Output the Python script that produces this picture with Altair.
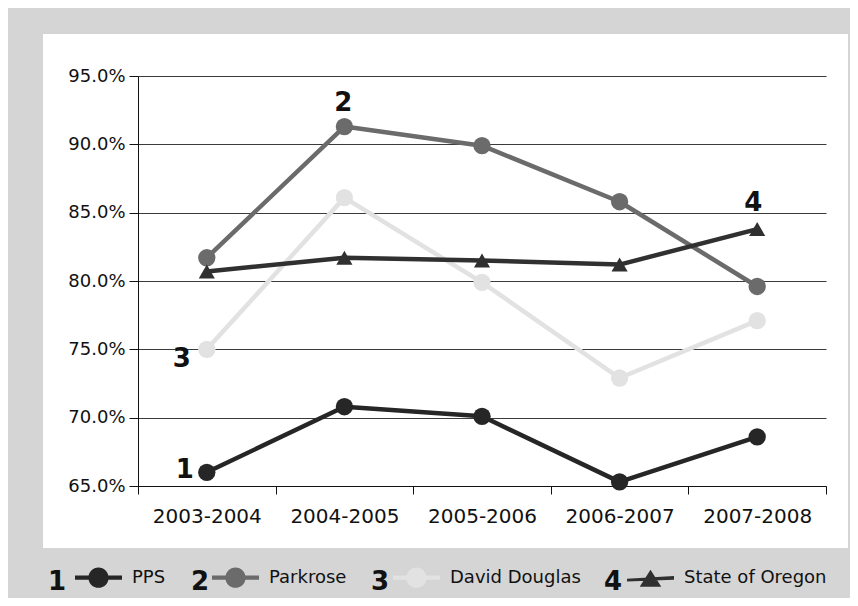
import altair as alt
import pandas as pd

years = ["2003-2004", "2004-2005", "2005-2006", "2006-2007", "2007-2008"]
series_names = ["PPS", "Parkrose", "David Douglas", "State of Oregon"]
series_nums = ["1", "2", "3", "4"]
pps = [66.0, 70.8, 70.1, 65.3, 68.6]
parkrose = [81.7, 91.3, 89.9, 85.8, 79.6]
david_douglas = [75.0, 86.1, 79.9, 72.9, 77.1]
state = [80.7, 81.7, 81.5, 81.2, 83.8]
y_ticks = [65, 70, 75, 80, 85, 90, 95]
colors = ["#262626", "#6b6b6b", "#e2e2e2", "#303030"]

rows = []
for name, vals in zip(series_names, [pps, parkrose, david_douglas, state]):
    for yr, v in zip(years, vals):
        rows.append({"year": yr, "series": name, "value": v / 100})
df = pd.DataFrame(rows)

ann = pd.DataFrame([
    {"year": years[0], "value": pps[0] / 100, "num": series_nums[0]},
    {"year": years[1], "value": parkrose[1] / 100, "num": series_nums[1]},
    {"year": years[0], "value": david_douglas[0] / 100, "num": series_nums[2]},
    {"year": years[4], "value": state[4] / 100, "num": series_nums[3]},
])

FONT = "DejaVu Sans"
GRAY = "#d5d5d5"

x_enc = alt.X("year:N", sort=years, title=None,
              scale=alt.Scale(paddingInner=0, paddingOuter=0),
              axis=alt.Axis(labelAngle=0, labelFontSize=20, labelFont=FONT, labelColor="#111",
                            domainColor="#111", tickColor="#111", tickSize=8,
                            tickBand="extent", labelPadding=12, grid=False))
y_enc = alt.Y("value:Q", title=None,
              scale=alt.Scale(domain=[0.65, 0.95], nice=False, zero=False),
              axis=alt.Axis(values=[t / 100 for t in y_ticks], format=".1%",
                            labelFontSize=18, labelFont=FONT, labelColor="#111",
                            domainColor="#111", tickColor="#111", tickSize=9,
                            gridColor="#3a3a3a", gridWidth=1, labelPadding=4))
color_scale = alt.Scale(domain=series_names, range=colors)
color_enc = alt.Color("series:N", scale=color_scale, sort=series_names)

CIRC = "M-1,-0.09L1,-0.09L1,0.09L-1,0.09Z M0.43,0A0.43,0.43,0,1,1,-0.43,0A0.43,0.43,0,1,1,0.43,0Z"
TRI = "M-1,0.02L1,-0.1L1,0.06L-1,0.14Z M0,-0.36L0.46,0.36L-0.46,0.36Z"

one = alt.Data(values=[{"a": 1}])
frame = [
    alt.Chart(one).mark_rect(color=GRAY).encode(
        x=alt.value(-200), x2=alt.value(900), y=alt.value(-100), y2=alt.value(-42)),
    alt.Chart(one).mark_rect(color=GRAY).encode(
        x=alt.value(-200), x2=alt.value(-95), y=alt.value(-100), y2=alt.value(700)),
    alt.Chart(one).mark_rect(color=GRAY).encode(
        x=alt.value(710), x2=alt.value(900), y=alt.value(-100), y2=alt.value(700)),
    alt.Chart(one).mark_rect(color=GRAY).encode(
        x=alt.value(-200), x2=alt.value(900), y=alt.value(472), y2=alt.value(700)),
]

lines = alt.Chart(df).mark_line(strokeWidth=4.5, strokeCap="round", strokeJoin="round").encode(
    x=x_enc, y=y_enc, color=color_enc,
)

circles = alt.Chart(df).transform_filter(alt.datum.series != "State of Oregon").mark_circle(
    opacity=1, size=300
).encode(x=alt.X("year:N", sort=years), y="value:Q", color=color_enc)

triangles = alt.Chart(df).transform_filter(alt.datum.series == "State of Oregon").mark_point(
    filled=True, opacity=1, size=260, shape="triangle-up"
).encode(x=alt.X("year:N", sort=years), y="value:Q", color=color_enc)

leg_props = dict(
    title=None, orient="none", direction="horizontal",
    legendX=-63, legendY=478, padding=0,
    symbolSize=2209, symbolStrokeWidth=0, symbolOpacity=1,
    labelFont=FONT, labelFontSize=18, labelColor="#111",
    labelOffset=10, columnPadding=46,
)
legend_layer = alt.Chart(df).transform_filter("false").mark_point(
    filled=True, opacity=1, size=2209, strokeWidth=0
).encode(
    x=alt.X("year:N", sort=years),
    y="value:Q",
    color=alt.Color("series:N", scale=color_scale, sort=series_names,
                    legend=alt.Legend(**leg_props)),
    shape=alt.Shape("series:N", sort=series_names,
                    scale=alt.Scale(domain=series_names, range=[CIRC, CIRC, CIRC, TRI]),
                    legend=alt.Legend(**leg_props)),
)

def ann_text(i, dx, dy):
    return alt.Chart(ann.iloc[[i]]).mark_text(
        font=FONT, fontSize=26, fontWeight="bold", color="#111", dx=dx, dy=dy
    ).encode(x=alt.X("year:N", sort=years), y="value:Q", text="num:N")

anns = [ann_text(0, -22, -2), ann_text(1, -1, -24), ann_text(2, -25, 10), ann_text(3, -4, -26)]

leg_nums = alt.Chart(pd.DataFrame({"num": series_nums})).mark_text(
    font=FONT, fontSize=26, fontWeight="bold", color="#111", baseline="middle"
)
leg_layers = [
    leg_nums.transform_filter(alt.datum.num == n).encode(
        text="num:N", x=alt.value(px), y=alt.value(506))
    for n, px in zip(series_nums, [-81, 62, 242, 475])
]

chart = alt.layer(*frame, lines, circles, triangles, legend_layer, *anns, *leg_layers).properties(
    width=688, height=410,
    padding={"left": 130, "top": 68, "right": 24, "bottom": 112},
    autosize=alt.AutoSizeParams(type="none"),
    background="white",
).configure_view(stroke=None)

chart.save("out.html", embed_options={"renderer": "svg", "actions": False})
